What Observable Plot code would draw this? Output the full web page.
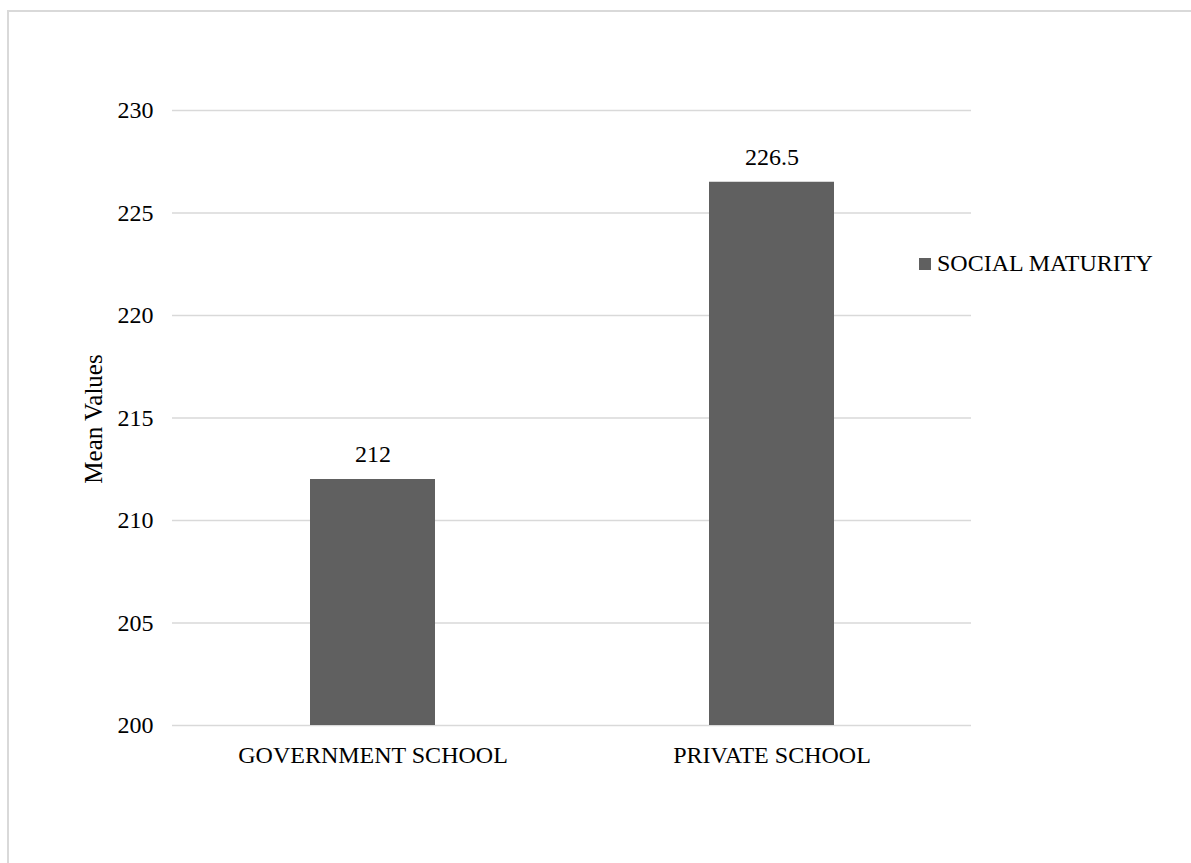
<!DOCTYPE html>
<html>
<head>
<meta charset="utf-8">
<script src="https://cdn.jsdelivr.net/npm/d3@7"></script>
<script src="https://cdn.jsdelivr.net/npm/@observablehq/plot@0.6"></script>
<style>
  html, body { margin: 0; padding: 0; width: 1191px; height: 863px; overflow: hidden; background: #fff; }
  #frame { position: absolute; left: 7px; top: 10px; width: 1400px; height: 1100px; border: 2px solid #d9d9d9; box-sizing: border-box; }
  #chart { position: absolute; left: 0; top: 0; }
  #legend { position: absolute; left: 919px; top: 250px; display: flex; align-items: center; font-family: "Liberation Serif", "Times New Roman", serif; font-size: 24px; color: #000; white-space: nowrap; }
  #legend .sw { width: 12px; height: 12px; background: #606060; margin-right: 6px; }
</style>
</head>
<body>
<div id="frame"></div>
<div id="chart"></div>
<div id="legend"></div>
<script>
const categories = ["GOVERNMENT SCHOOL", "PRIVATE SCHOOL"];
const values = [212, 226.5];
const seriesName = "SOCIAL MATURITY";
const yTicks = [200, 205, 210, 215, 220, 225, 230];
const yLabel = "Mean Values";

const data = categories.map((c, i) => ({category: c, value: values[i]}));
const baseline = yTicks[0];

const chart = Plot.plot({
  width: 1191,
  height: 863,
  marginLeft: 172,
  marginRight: 220,
  marginTop: 110,
  marginBottom: 138,
  style: {fontFamily: "Liberation Serif, 'Times New Roman', serif", fontSize: "24px", color: "#000", background: "transparent", overflow: "visible"},
  x: {domain: categories, paddingInner: 0.6875, paddingOuter: 0.34375},
  y: {domain: [yTicks[0], yTicks[yTicks.length - 1]]},
  marks: [
    Plot.gridY(yTicks, {stroke: "#d9d9d9", strokeOpacity: 1, strokeWidth: 1.5}),
    Plot.barY(data, {x: "category", y1: () => baseline, y2: "value", fill: "#606060"}),
    Plot.text(data, {x: "category", y: "value", text: d => String(d.value), dy: -25, fontSize: 24, fill: "#000"}),
    Plot.axisY({ticks: yTicks, tickSize: 0, tickPadding: 19, fontSize: 24, label: null}),
    Plot.axisX({tickSize: 0, tickPadding: 20, fontSize: 24, label: null}),
    Plot.text([yLabel], {frameAnchor: "left", textAnchor: "middle", text: d => d, rotate: -90, dx: -79, dy: 1, fontSize: 25, fill: "#000"})
  ]
});
document.getElementById("chart").appendChild(chart);

const legend = document.getElementById("legend");
const sw = document.createElement("div");
sw.className = "sw";
const lt = document.createElement("span");
lt.textContent = seriesName;
legend.appendChild(sw);
legend.appendChild(lt);
</script>
</body>
</html>
